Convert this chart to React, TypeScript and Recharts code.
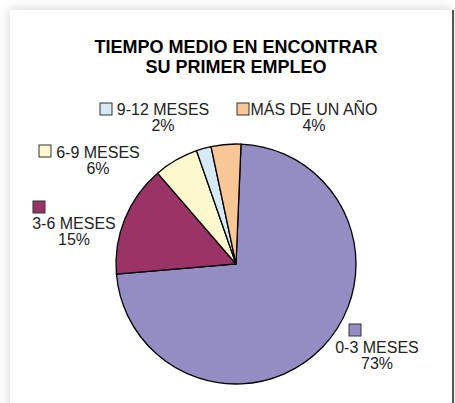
import { PieChart, Pie, Cell } from 'recharts'

const CATEGORIES = ['0-3 MESES', '3-6 MESES', '6-9 MESES', '9-12 MESES', 'MÁS DE UN AÑO']
const VALUES = [73, 15, 6, 2, 4]
const COLORS = ['#948DC3', '#9A3366', '#FEF8CF', '#D5EAF4', '#F8C795']
const TITLE_LINES = ['TIEMPO MEDIO EN ENCONTRAR', 'SU PRIMER EMPLEO']

const data = CATEGORIES.map((name, i) => ({ name, value: VALUES[i] }))

// label placement relative to the pie centre (name centre x, name baseline y) and swatch offset
const LABEL_LAYOUT = [
  { dx: 141, dy: 89, sx: -28, sy: -29 },
  { dx: -162, dy: -35, sx: -41, sy: -28 },
  { dx: -138, dy: -106, sx: -59, sy: -13 },
  { dx: -73, dy: -149, sx: -63, sy: -12 },
  { dx: 78, dy: -149, sx: -77, sy: -12 },
]

const FONT = "'Liberation Sans', Arial, Helvetica, sans-serif"

function renderLabel(props: any) {
  const { cx, cy, index } = props
  const l = LABEL_LAYOUT[index]
  const x = cx + l.dx
  const y = cy + l.dy
  return (
    <g key={`lbl-${index}`}>
      <rect x={x + l.sx} y={y + l.sy} width={12} height={12} fill={COLORS[index]} stroke="#333" strokeWidth={1} />
      <text x={x} y={y} textAnchor="middle" fontSize={16} fontFamily={FONT} fill="#222">
        {CATEGORIES[index]}
      </text>
      <text x={x} y={y + 16} textAnchor="middle" fontSize={16} fontFamily={FONT} fill="#222">
        {`${VALUES[index]}%`}
      </text>
    </g>
  )
}

export default function App() {
  return (
    <div style={{ position: 'absolute', left: 0, top: 0, width: 455, height: 403, overflow: 'hidden', background: '#fff' }}>
      {/* card */}
      <div
        style={{
          position: 'absolute',
          left: 10,
          top: 10,
          width: 442,
          height: 420,
          background: '#fff',
          borderRight: '2px solid #555',
          boxShadow: '-1px -1px 10px rgba(0,0,0,0.16)',
        }}
      />
      <div
        style={{
          position: 'absolute',
          left: 10,
          top: 37,
          width: 452,
          textAlign: 'center',
          fontFamily: FONT,
          fontWeight: 700,
          fontSize: 18,
          lineHeight: '20px',
          color: '#000',
        }}
      >
        {TITLE_LINES.map((t) => (
          <div key={t}>{t}</div>
        ))}
      </div>
      <div style={{ position: 'absolute', left: 0, top: 0 }}>
        <PieChart width={455} height={403} margin={{ top: 0, right: 0, bottom: 0, left: 0 }}>
          <Pie
            data={data}
            dataKey="value"
            nameKey="name"
            cx={236}
            cy={264}
            innerRadius={0}
            outerRadius={120}
            startAngle={87.6}
            endAngle={-272.4}
            stroke="#000"
            strokeWidth={1.3}
            label={renderLabel}
            labelLine={false}
            isAnimationActive={false}
          >
            {data.map((_d, i) => (
              <Cell key={`cell-${i}`} fill={COLORS[i]} />
            ))}
          </Pie>
        </PieChart>
      </div>
    </div>
  )
}
